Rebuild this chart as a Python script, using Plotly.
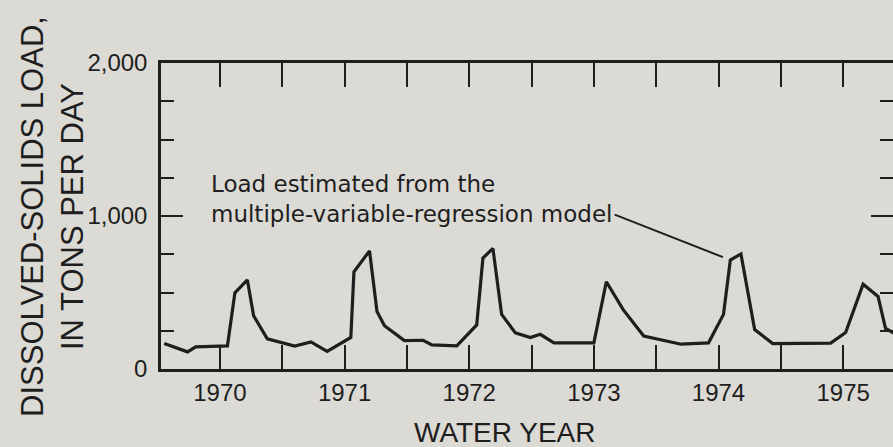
import plotly.graph_objects as go

# Estimated dissolved-solids load, water years 1970-1975
water_year = [1969.553, 1969.74, 1969.805, 1970.00, 1970.06, 1970.12, 1970.22, 1970.27,
              1970.38, 1970.60, 1970.73, 1970.86, 1971.00, 1971.05, 1971.075, 1971.20,
              1971.26, 1971.32, 1971.48, 1971.63, 1971.70, 1971.90, 1972.06, 1972.11,
              1972.19, 1972.26, 1972.37, 1972.49, 1972.57, 1972.68, 1973.00, 1973.10,
              1973.235, 1973.40, 1973.70, 1973.92, 1974.04, 1974.095, 1974.18, 1974.29,
              1974.435, 1974.90, 1975.02, 1975.16, 1975.28, 1975.34, 1975.45]
load_tons_per_day = [167, 112, 145, 151, 151, 498, 582, 348,
                     197, 150, 177, 115, 180, 206, 635, 772,
                     376, 283, 186, 188, 158, 151, 288, 725,
                     788, 357, 236, 206, 227, 171, 171, 570,
                     388, 216, 162, 171, 357, 712, 752, 258,
                     166, 169, 238, 554, 474, 265, 215]

year_ticks = [1970, 1971, 1972, 1973, 1974, 1975]
year_labels = [str(y) for y in year_ticks]
half_year_ticks = [1969.5, 1970.5, 1971.5, 1972.5, 1973.5, 1974.5, 1975.5]
load_ticks = [0, 1000, 2000]
load_labels = ["0", "1,000", "2,000"]
load_minor = [250, 500, 750, 1250, 1500, 1750]

# the annotated point on the 1974 rise
pointer_index = 37

INK = "#1e1e1e"
PAPER = "#dcdad5"
FONT = "Liberation Sans, Arial, Helvetica, sans-serif"

fig = go.Figure()
fig.add_trace(go.Scatter(
    x=water_year, y=load_tons_per_day, mode="lines",
    line=dict(color=INK, width=3.2), hoverinfo="skip", showlegend=False,
))
# same series bound to the right-hand axis so its tick marks are laid out
fig.add_trace(go.Scatter(
    x=water_year, y=load_tons_per_day, mode="lines", yaxis="y2",
    line=dict(color="rgba(0,0,0,0)", width=0), hoverinfo="skip", showlegend=False,
))

fig.update_layout(
    width=893, height=447,
    margin=dict(l=161, r=0, t=63, b=78),
    paper_bgcolor=PAPER, plot_bgcolor=PAPER,
    font=dict(family=FONT, color=INK),
    showlegend=False,
)

fig.update_xaxes(
    range=[1969.527, 1975.4], showgrid=False, zeroline=False,
    showline=True, linecolor=INK, linewidth=2.5, mirror="allticks",
    ticks="inside", ticklen=24, tickwidth=2, tickcolor=INK,
    tickvals=year_ticks, ticktext=year_labels,
    tickfont=dict(size=24, family=FONT, color=INK),
    minor=dict(tickvals=half_year_ticks, ticks="inside", ticklen=11,
               tickwidth=2, tickcolor=INK, showgrid=False),
)
fig.update_yaxes(
    range=[0, 2000], showgrid=False, zeroline=False,
    showline=True, linecolor=INK, linewidth=2.5, mirror=False,
    ticks="inside", ticklen=22, tickwidth=2, tickcolor=INK,
    tickvals=load_ticks, ticktext=load_labels,
    tickfont=dict(size=24, family=FONT, color=INK),
    ticklabelstandoff=6,
    minor=dict(tickvals=load_minor, ticks="inside", ticklen=13,
               tickwidth=2, tickcolor=INK, showgrid=False),
)
# right-hand tick marks (the frame continues past the right edge)
fig.update_layout(yaxis2=dict(
    overlaying="y", side="right", anchor="x", range=[0, 2000],
    showgrid=False, zeroline=False, showline=False, showticklabels=False,
    ticks="inside", ticklen=22, tickwidth=2, tickcolor=INK, tickvals=load_ticks,
    minor=dict(tickvals=load_minor, ticks="inside", ticklen=13,
               tickwidth=2, tickcolor=INK, showgrid=False),
))

# axis titles
fig.add_annotation(
    text="DISSOLVED-SOLIDS LOAD,<br>IN TONS PER DAY",
    xref="paper", yref="paper", x=-0.149, y=0.5,
    xanchor="center", yanchor="middle", textangle=-90,
    showarrow=False, font=dict(size=31, family=FONT, color=INK),
)
fig.add_annotation(
    text="WATER YEAR",
    xref="paper", yref="paper", x=(505 - 161) / 732, y=-0.209,
    xanchor="center", yanchor="middle",
    showarrow=False, font=dict(size=28, family=FONT, color=INK),
)

# label with leader line to the 1974 peak
fig.add_annotation(
    text="Load estimated from the<br>multiple-variable-regression model",
    x=1969.91, y=1110, xref="x", yref="y",
    xanchor="left", yanchor="middle", align="left",
    showarrow=False, font=dict(size=23, family="DejaVu Sans", color=INK),
)
fig.add_annotation(
    text="",
    x=water_year[pointer_index], y=load_tons_per_day[pointer_index],
    ax=1973.155, ay=1013, xref="x", yref="y", axref="x", ayref="y",
    showarrow=True, arrowhead=0, arrowwidth=2, arrowcolor=INK, standoff=8,
)

fig.write_html("out.html")
